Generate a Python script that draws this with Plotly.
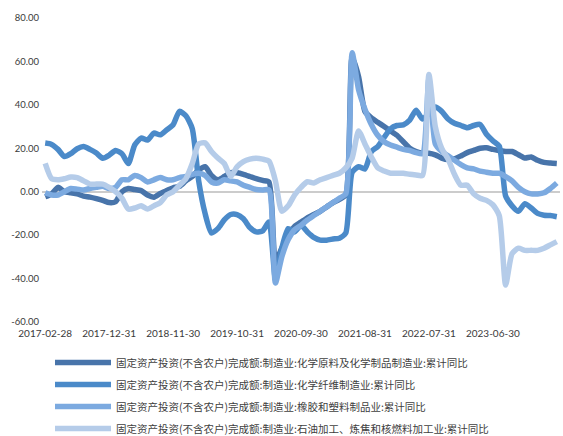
import plotly.graph_objects as go
import pandas as pd

# Monthly categories 2017-02 .. 2023-10 (month-end)
months = [d.strftime("%Y-%m-%d") for d in pd.date_range("2017-02-28", "2023-10-31", freq="ME")]

tick_labels = ["2017-02-28", "2017-12-31", "2018-11-30", "2019-10-31",
               "2020-09-30", "2021-08-31", "2022-07-31", "2023-06-30"]
tick_index = [0, 10, 20, 30, 40, 50, 60, 70]

names = [
    "固定资产投资(不含农户)完成额:制造业:化学原料及化学制品制造业:累计同比",
    "固定资产投资(不含农户)完成额:制造业:化学纤维制造业:累计同比",
    "固定资产投资(不含农户)完成额:制造业:橡胶和塑料制品业:累计同比",
    "固定资产投资(不含农户)完成额:制造业:石油加工、炼焦和核燃料加工业:累计同比",
]

chem_raw = [-2.3, -1, 2, 0, -0.5, -1, -2, -2.5, -3.2, -4, -5,
            -4.6, 0, 1.5, 1, 0.5, -1.5, -2.5, -0.8, 0.5, 1.8,
            2.5, 5, 7, 10, 11.5, 7.5, 5.5, 7, 8.8, 8.7,
            8, 7, 6, 5.2, 4.5, -32, -26, -20, -16, -14,
            -12, -10.5, -9, -7, -5, -3.5, -1.5, 62, 53, 37,
            34, 32, 30, 28, 26, 23, 20, 18.5, 17.7, 17.7,
            17, 15.5, 14.8, 15.2, 16.5, 18, 19, 20, 20.2, 19.5,
            19, 18.5, 18.5, 17, 15.5, 16, 14.5, 13.5, 13.2, 13]

chem_fiber = [22.4, 21.8, 19.5, 16.2, 17.5, 19.8, 20.8, 19.5, 17.8, 15.4, 16.8,
              19, 17.5, 13, 21.5, 24.7, 23.8, 27, 26.2, 28.5, 30.8,
              37, 35, 29, 5, -10, -19, -17, -13, -10.5, -10.5,
              -12.5, -16.5, -18.5, -18, -14, -40, -26, -17, -18.5, -15.5,
              -18.5, -21, -22.3, -22.3, -21.8, -21.4, -19, 9, 11.5, 10.5,
              18.5, 20.8, 25, 29, 30.5, 30.8, 33, 37.5, 33.5, 36,
              39, 37, 33.5, 31.5, 30.5, 29.5, 30.5, 31, 26.5, 23.5,
              21, -2, -6.5, -9, -5.5, -7.5, -10, -10.8, -11, -11.5]

rubber_plastic = [-0.5, -1.5, -1.5, 0, 1.5, 1.2, 0.8, 1.5, 2, 2.5, 1.5,
                  2, 5.5, 5.5, 7.5, 6.5, 4.5, 5.5, 6.5, 5.5, 5.5,
                  6.5, 7, 8, 8.5, 7.5, 4.5, 4, 5.5, 5, 4.5,
                  3, 2, 1, 0.8, 0.8, -42, -30, -22, -17.5, -15.5,
                  -13, -11, -9, -7, -5, -3, -1, 64, 47, 38,
                  31, 26, 23, 21.5, 20.5, 19.5, 19, 18, 17.5, 52,
                  22, 18.5, 16.5, 14.5, 12.5, 11, 10.5, 9.5, 9, 8.5,
                  8.5, 7, 5, 2, 0, -1, -1, -0.5, 1.5, 4]

petroleum = [13, 6, 5.5, 6, 6.8, 6.5, 5, 3.5, 3.5, 3.5, 2,
             0, -3, -8, -7.5, -6.5, -8, -6.5, -5, -1.5, 0,
             3, 6, 13, 22, 22.5, 18.5, 15.5, 13, 7, 11.5,
             13.9, 15, 15.4, 15, 14, 5, -9, -6.5, -1.5, 2,
             4.6, 4, 5.5, 6.5, 7.5, 8.5, 11, 15.5, 28, 22,
             16, 11, 9.5, 8.5, 8.5, 8.5, 8, 7.7, 7.5, 54,
             30, 20, 15, 8, 3, 3, -1, -3, -4, -6,
             -11, -43, -28.5, -26, -27, -27, -27, -26, -24.5, -23]

series = [chem_raw, chem_fiber, rubber_plastic, petroleum]
colors = ["#4874AA", "#4B8AC9", "#7CAAE0", "#B5CCE9"]

fig = go.Figure()
for i, (nm, vals, col) in enumerate(zip(names, series, colors)):
    fig.add_trace(go.Scatter(
        x=months, y=vals, name=nm, mode="lines",
        line=dict(color=col, width=5.5, shape="spline", smoothing=0.6),
        legendgroup=f"g{i}", hoverinfo="skip",
    ))

fig.update_layout(
    width=563, height=436,
    margin=dict(l=42, r=3, t=18, b=114, autoexpand=False),
    paper_bgcolor="white", plot_bgcolor="white",
    font=dict(family="Lato, Noto Sans CJK SC, sans-serif", size=10, color="#3a3a3a"),
    showlegend=True,
    legend=dict(
        orientation="v", xref="container", yref="container",
        x=50 / 563, y=1 - 348 / 436, xanchor="left", yanchor="top",
        font=dict(family="Noto Sans CJK SC", size=10.5, color="#404040"),
        itemwidth=56, tracegroupgap=3, bgcolor="rgba(0,0,0,0)",
    ),
)
fig.update_xaxes(
    type="category", range=[-0.5, len(months) - 0.5],
    tickmode="array", tickvals=[months[i] for i in tick_index], ticktext=tick_labels,
    showgrid=False, showline=False, zeroline=False, ticks="",
    ticklabelstandoff=4,
    tickfont=dict(size=10, color="#3a3a3a"),
)
fig.update_yaxes(
    range=[-60, 80], tickmode="array", tickvals=[-60, -40, -20, 0, 20, 40, 60, 80],
    ticktext=["-60.00", "-40.00", "-20.00", "0.00", "20.00", "40.00", "60.00", "80.00"],
    showgrid=False, showline=False, zeroline=True, zerolinecolor="#cccccc", zerolinewidth=1.5,
    ticks="", ticklabelstandoff=2, tickfont=dict(size=9.5, color="#3a3a3a"),
)

fig.write_html("out.html")
